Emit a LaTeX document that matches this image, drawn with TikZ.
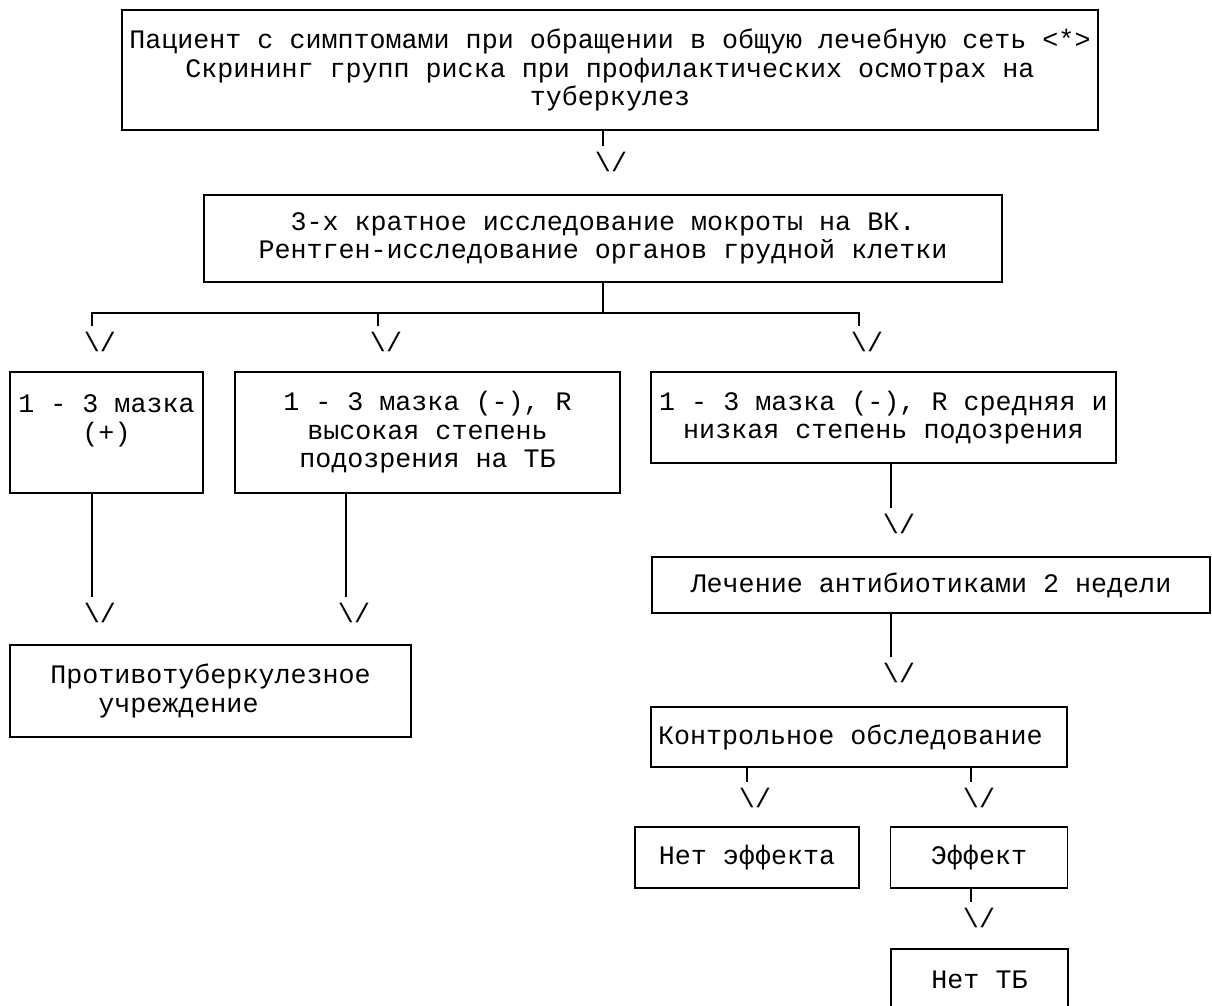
\documentclass[tikz,border=0pt]{standalone}
\usepackage{fontspec}
\setmonofont{Liberation Mono}
\usepackage{tikz}
\usetikzlibrary{positioning}

\begin{document}
\begin{tikzpicture}[
  x=1pt, y=-1pt,
  font=\fontsize{26.7}{28.5}\selectfont\ttfamily,
  box/.style={draw, line width=1.6pt, align=center, inner sep=0pt},
  tip/.style={inner xsep=0pt, inner ysep=5pt, anchor=base},
  link/.style={line width=1.6pt}
]
  \useasboundingbox (0,0) rectangle (1212,1005);

  \node[box, minimum width=976, minimum height=120] (pat) at (610,70)
    {Пациент с симптомами при обращении в общую лечебную сеть <*>\\
     Скрининг групп риска при профилактических осмотрах на\\
     туберкулез};
  \node[box, minimum width=798, minimum height=87] (exam) at (603,238.5)
    {3-х кратное исследование мокроты на ВК.\\
     Рентген-исследование органов грудной клетки};
  \node[box, minimum width=193, minimum height=121] (smpos) at (106.5,432.5)
    {1 - 3 мазка\\(+)\\\mbox{}};
  \node[box, minimum width=385, minimum height=121] (smhigh) at (427.5,432.5)
    {1 - 3 мазка (-), R\\высокая степень\\подозрения на ТБ};
  \node[box, minimum width=465, minimum height=91] (smlow) at (883.5,417.5)
    {1 - 3 мазка (-), R средняя и\\низкая степень подозрения};
  \node[box, minimum width=558, minimum height=56] (abx) at (931,585)
    {Лечение антибиотиками 2 недели};
  \node[box, minimum width=401, minimum height=92, align=left] (ptb) at (210.5,691)
    {Противотуберкулезное\\\hspace*{1.8em}учреждение};
  \node[box, minimum width=416, minimum height=60] (ctrl) at (859,737)
    {Контрольное обследование\hspace*{0.65em}};
  \node[box, minimum width=224, minimum height=61] (noeff) at (747,857.5) {Нет эффекта};
  \node[box, minimum width=177, minimum height=61] (eff) at (979,857.5) {Эффект};
  \node[box, minimum width=177, minimum height=62] (notb) at (979.5,980) {Нет ТБ};

  % arrow glyphs
  \node[tip] (a1) at (611,171) {\textbackslash/};
  \node[tip] (a2) at (100,351) {\textbackslash/};
  \node[tip] (a3) at (386,351) {\textbackslash/};
  \node[tip] (a4) at (867,351) {\textbackslash/};
  \node[tip] (a5) at (100,622) {\textbackslash/};
  \node[tip] (a6) at (354,622) {\textbackslash/};
  \node[tip] (a7) at (899,533) {\textbackslash/};
  \node[tip] (a8) at (899,682) {\textbackslash/};
  \node[tip] (a9) at (755,807) {\textbackslash/};
  \node[tip] (a10) at (979,807) {\textbackslash/};
  \node[tip] (a11) at (979,927) {\textbackslash/};

  \draw[link] ([xshift=-8pt]a1.north) -- ([xshift=-8pt]a1.north |- pat.south);
  \draw[link] (exam.south) -- ++(0,30) coordinate (fork);
  \draw[link] ([xshift=-8pt]a2.north) |- (fork);
  \draw[link] ([xshift=-8pt]a4.north) |- (fork);
  \draw[link] ([xshift=-8pt]a3.north) -- ([xshift=-8pt]a3.north |- fork);
  \draw[link] ([xshift=-8pt]a5.north) -- ([xshift=-8pt]a5.north |- smpos.south);
  \draw[link] ([xshift=-8pt]a6.north) -- ([xshift=-8pt]a6.north |- smhigh.south);
  \draw[link] ([xshift=-8pt]a7.north) -- ([xshift=-8pt]a7.north |- smlow.south);
  \draw[link] ([xshift=-8pt]a8.north) -- ([xshift=-8pt]a8.north |- abx.south);
  \draw[link] ([xshift=-8pt]a9.north) -- ([xshift=-8pt]a9.north |- ctrl.south);
  \draw[link] ([xshift=-8pt]a10.north) -- ([xshift=-8pt]a10.north |- ctrl.south);
  \draw[link] ([xshift=-8pt]a11.north) -- ([xshift=-8pt]a11.north |- eff.south);
\end{tikzpicture}
\end{document}
